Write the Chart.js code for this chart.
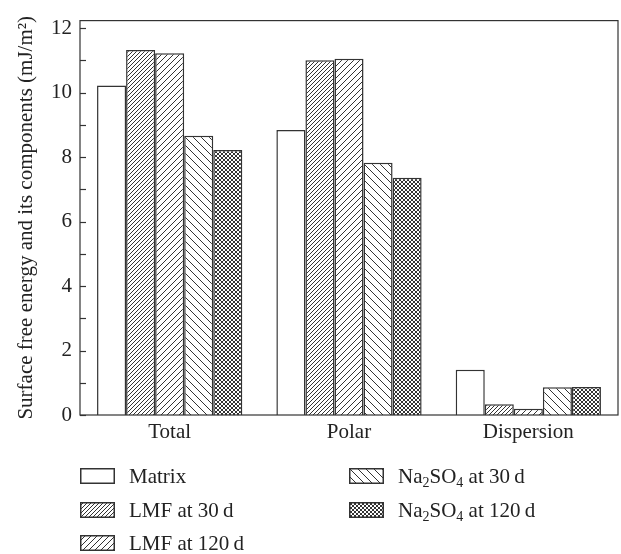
<!DOCTYPE html>
<html>
<head>
<meta charset="utf-8">
<script src="https://cdn.jsdelivr.net/npm/chart.js@4.4.0/dist/chart.umd.min.js"></script>
<style>
  html, body { margin: 0; padding: 0; background: #fff; }
  #wrap { position: relative; width: 621px; height: 554px; }
  .leg { position: absolute; height: 16px; display: flex; align-items: center; white-space: nowrap;
         font-family: "Liberation Serif", serif; font-size: 21px; color: #222; }
  .leg canvas { display: block; margin-right: 14px; }
  .leg sub { font-size: 14px; vertical-align: -4px; line-height: 0; }
</style>
</head>
<body>
<div id="wrap">
  <canvas id="grafico" width="621" height="554"></canvas>
</div>
<script>
const categorias = ["Total", "Polar", "Dispersion"];
const matrix = [10.22, 8.84, 1.40];
const lmf30 = [11.32, 11.00, 0.33];
const lmf120 = [11.22, 11.05, 0.19];
const na30 = [8.66, 7.82, 0.86];
const na120 = [8.22, 7.36, 0.87];
const yTicks = [0, 1, 2, 3, 4, 5, 6, 7, 8, 9, 10, 11, 12];
const nomes = ["Matrix", "LMF at 30\u2009d", "LMF at 120\u2009d", "Na<sub>2</sub>SO<sub>4</sub> at 30\u2009d", "Na<sub>2</sub>SO<sub>4</sub> at 120\u2009d"];

const fonte = { family: "'Liberation Serif', serif", size: 21 };
const cor = "#333";

// tile de hachura: '/' , '\' ou 'x'
function hachura(tipo, s) {
  const c = document.createElement("canvas");
  c.width = s; c.height = s;
  const g = c.getContext("2d");
  g.fillStyle = "#fff";
  g.fillRect(0, 0, s, s);
  g.strokeStyle = cor;
  g.lineWidth = 1;
  g.beginPath();
  if (tipo === "/" || tipo === "x") {
    g.moveTo(-1, s + 1); g.lineTo(s + 1, -1);
    g.moveTo(-1, 1); g.lineTo(1, -1);
    g.moveTo(s - 1, s + 1); g.lineTo(s + 1, s - 1);
  }
  if (tipo === "\\" || tipo === "x") {
    g.moveTo(-1, -1); g.lineTo(s + 1, s + 1);
    g.moveTo(s - 1, -1); g.lineTo(s + 1, 1);
    g.moveTo(-1, s - 1); g.lineTo(1, s + 1);
  }
  g.stroke();
  return c;
}

const ctx = document.getElementById("grafico").getContext("2d");
const tiles = [null, hachura("/", 4), hachura("/", 6), hachura("\\", 8), hachura("x", 4)];
const preenchimentos = tiles.map(t => t ? ctx.createPattern(t, "repeat") : "#fff");
const series = [matrix, lmf30, lmf120, na30, na120];

const moldura = {
  id: "moldura",
  afterDraw(chart) {
    const { ctx, chartArea: a, scales: { y } } = chart;
    ctx.save();
    ctx.strokeStyle = cor;
    ctx.lineWidth = 1.2;
    ctx.strokeRect(a.left, a.top, a.right - a.left, a.bottom - a.top);
    y.ticks.forEach(t => {
      const py = Math.round(y.getPixelForValue(t.value)) + 0.5;
      ctx.beginPath();
      ctx.moveTo(a.left, py);
      ctx.lineTo(a.left + 6, py);
      ctx.stroke();
    });
    ctx.restore();
  }
};

const grafico = new Chart(ctx, {
  type: "bar",
  data: {
    labels: categorias,
    datasets: series.map((d, i) => ({
      label: nomes[i],
      data: d,
      backgroundColor: preenchimentos[i],
      borderColor: cor,
      borderWidth: 1.5,
      barPercentage: 1,
      categoryPercentage: 0.81
    }))
  },
  options: {
    responsive: false,
    animation: false,
    layout: { padding: { top: 13, right: 3, left: 0, bottom: 0 } },
    plugins: { legend: { display: false }, tooltip: { enabled: false } },
    scales: {
      x: {
        grid: { display: false, drawTicks: false },
        border: { display: false },
        ticks: { color: "#222", font: fonte, padding: 5, maxRotation: 0 },
        afterFit: s => { s.height = 139; }
      },
      y: {
        min: 0,
        max: 12.23,
        grid: { display: false, drawTicks: false },
        border: { display: false },
        afterBuildTicks: s => { s.ticks = yTicks.map(v => ({ value: v })); },
        ticks: { color: "#222", font: fonte, padding: 8, callback: v => v % 2 === 0 ? v : "" },
        title: {
          display: true,
          text: "Surface free energy and its components (mJ/m\u00b2)",
          color: "#222",
          font: fonte,
          padding: { top: 14, bottom: 0 }
        },
        afterFit: s => { s.width = 80; }
      }
    }
  },
  plugins: [moldura]
});

// legenda em duas colunas
const posicoes = [[80, 468], [80, 502], [80, 535], [349, 468], [349, 502]];
const wrap = document.getElementById("wrap");
nomes.forEach((n, i) => {
  const div = document.createElement("div");
  div.className = "leg";
  div.style.left = posicoes[i][0] + "px";
  div.style.top = posicoes[i][1] + "px";
  const sw = document.createElement("canvas");
  sw.width = 35; sw.height = 16;
  const g = sw.getContext("2d");
  g.fillStyle = tiles[i] ? g.createPattern(tiles[i], "repeat") : "#fff";
  g.fillRect(0, 0, 35, 16);
  g.strokeStyle = cor;
  g.lineWidth = 1.5;
  g.strokeRect(0.75, 0.75, 33.5, 14.5);
  div.appendChild(sw);
  const sp = document.createElement("span");
  sp.innerHTML = n;
  div.appendChild(sp);
  wrap.appendChild(div);
});
</script>
</body>
</html>
